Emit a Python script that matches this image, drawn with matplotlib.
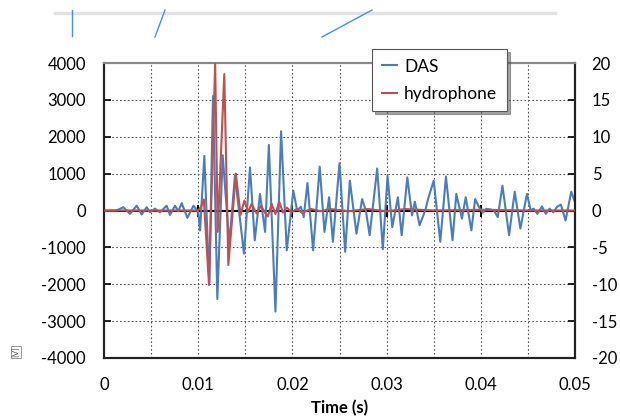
import matplotlib
matplotlib.use("Agg")
import matplotlib.pyplot as plt
from matplotlib.lines import Line2D

# ---------------- data ----------------
das_t = [0.0, 0.0012, 0.0015, 0.00205, 0.00276, 0.00347, 0.0040, 0.00453, 0.00488,
         0.00541, 0.00594, 0.00665, 0.0070, 0.00754, 0.00789, 0.00825, 0.00885,
         0.0095, 0.0100, 0.0102, 0.01065, 0.01118, 0.01157, 0.01203, 0.0126,
         0.0133, 0.0139, 0.01486, 0.0155, 0.0160, 0.01656, 0.0171, 0.0175,
         0.0182, 0.0188, 0.0194, 0.0201, 0.0205, 0.0209, 0.0212, 0.0216, 0.0222,
         0.0229, 0.0234, 0.0239, 0.0243, 0.0250, 0.0256, 0.0261, 0.0268, 0.0274,
         0.0278, 0.0282, 0.0290, 0.0296, 0.0301, 0.0306, 0.0312, 0.0316, 0.0322,
         0.0327, 0.0330, 0.0335, 0.0341, 0.0344, 0.0350, 0.0357, 0.0363, 0.0370,
         0.0374, 0.0380, 0.0384, 0.0390, 0.0394, 0.0398, 0.0402, 0.0406, 0.0410,
         0.0414, 0.0418, 0.0423, 0.0430, 0.0436, 0.0442, 0.0449, 0.0453, 0.0456,
         0.0460, 0.0465, 0.0469, 0.0473, 0.0477, 0.0481, 0.0485, 0.0490, 0.0496,
         0.0500]
das_v = [0, 0, 20, 90, -90, 130, -110, 90, -50,
         50, -50, 130, -120, 130, -20, 200, -200,
         130, -50, -540, 1480, -1960, 3100, -2400, 1500,
         -900, 940, -1170, 1170, -810, 450, -580, 1780,
         -2740, 2150, -1080, 540, 0, 100, -180, 745, -1080,
         1190, -580, 360, -850, 1280, -1120, 810, -630, 310,
         0, -670, 1140, -1050, 940, -450, 360, -670, 900,
         -130, 240, -400, 0, 310, 810, -850, 920, -810,
         450, -220, 360, -540, 310, 100, -60, 45, 30,
         0, -180, 670, -670, 510, -490, 450, 0, 50,
         -90, 110, -90, 50, -50, 100, 160, -270, 510,
         220]

hyd_t = [0.0, 0.0100, 0.0103, 0.0106, 0.01115, 0.0118, 0.01207, 0.01277, 0.0132,
         0.0140, 0.0145, 0.0149, 0.0153, 0.01567, 0.0162, 0.01667, 0.0171,
         0.0174, 0.0178, 0.0182, 0.0186, 0.0190, 0.0194, 0.0199, 0.0205,
         0.0210, 0.0220, 0.0230, 0.0240, 0.0260, 0.0280, 0.0300, 0.0320,
         0.0350, 0.0400, 0.0450, 0.0500]
hyd_v = [0, 0, 0.5, 1.5, -10.1, 20, -2.9, 18.5, -7.4,
         5.0, -0.6, 1.35, -0.2, 0.9, -0.4, 0.65, -0.3,
         -0.8, 0.9, -0.5, 1.2, -0.3, 0.4, -0.2, 0.2,
         -0.3, 0.2, -0.1, 0.2, -0.1, 0.2, -0.1, 0.2,
         0.0, 0.1, 0.0, 0.0]

x_ticks = [0, 0.01, 0.02, 0.03, 0.04, 0.05]
x_tick_labels = ["0", "0.01", "0.02", "0.03", "0.04", "0.05"]
left_ticks = [-4000, -3000, -2000, -1000, 0, 1000, 2000, 3000, 4000]
right_ticks = [-20, -15, -10, -5, 0, 5, 10, 15, 20]
x_grid = [0.005, 0.01, 0.015, 0.02, 0.025, 0.03, 0.035, 0.04, 0.045]

# ---------------- figure ----------------
plt.rcParams['font.family'] = ['Lato', 'DejaVu Sans']
plt.rcParams['axes.unicode_minus'] = False
fig = plt.figure(figsize=(6.2, 4.17), dpi=100)
ax = fig.add_axes([104/620, 1-358/417, (575-104)/620, (358-63)/417])
ax2 = ax.twinx()

blue = '#4a7ebb'
red = '#c0504d'

ax.set_xlim(0, 0.05)
ax.set_ylim(-4000, 4000)
ax2.set_ylim(-20, 20)

# grid
for g in x_grid:
    ax.axvline(g, color='#555555', lw=0.8, ls=(0, (1.5, 2)), zorder=0)
for g in left_ticks[1:-1]:
    if g != 0:
        ax.axhline(g, color='#555555', lw=0.8, ls=(0, (1.5, 2)), zorder=0)
ax.axhline(0, color='black', lw=1.5, zorder=1)
ax.plot(x_ticks[1:-1], [0]*(len(x_ticks)-2), ls='none', marker='|',
        color='black', ms=9, mew=1.5, zorder=1)

l1, = ax.plot(das_t, das_v, color=blue, lw=1.5, zorder=3, label='DAS',
              solid_joinstyle='round')
l2, = ax2.plot(hyd_t, hyd_v, color=red, lw=1.5, zorder=3, label='hydrophone',
               solid_joinstyle='round')

ax.set_xticks(x_ticks)
ax.set_xticklabels(x_tick_labels)
ax.set_yticks(left_ticks)
ax2.set_yticks(right_ticks)
ax.tick_params(axis='x', length=0, labelsize=12, pad=14)
ax.tick_params(axis='y', direction='in', length=5, width=1.2, labelsize=12, pad=13)
ax2.tick_params(axis='y', direction='in', length=5, width=1.2, labelsize=12, pad=12)

for a in (ax, ax2):
    for s in a.spines.values():
        s.set_linewidth(1.5)
        s.set_color('#222222')
ax.spines['top'].set_color('#888888')
ax2.spines['top'].set_color('#888888')

ax.set_xlabel('Time (s)', fontsize=12, fontweight='bold', labelpad=5)

leg = ax2.legend([l1, l2], ['DAS', 'hydrophone'], loc='upper left',
                 bbox_to_anchor=(372/620, 1-49/417), bbox_transform=fig.transFigure,
                 borderaxespad=0,
                 fontsize=12.5, frameon=True, fancybox=False, shadow=True,
                 handlelength=0.9, handletextpad=0.4, borderpad=0.55,
                 labelspacing=0.65)
leg.get_frame().set_edgecolor('#555555')
leg.get_frame().set_linewidth(0.8)
leg.set_zorder(10)

# decorative artifacts at top of the reference image
fig.add_artist(Line2D([55/620, 555/620], [1-13/417, 1-13/417],
                      transform=fig.transFigure, color='#e2e2e2', lw=2.5))
for (xa, ya, xb, yb) in [(72, 10, 72, 36), (165, 10, 155, 37), (372, 10, 322, 37)]:
    fig.add_artist(Line2D([xa/620, xb/620], [1-ya/417, 1-yb/417],
                          transform=fig.transFigure, color='#4a8fd8', lw=1.0))

fig.text(16/620, 1-352/417, '[V]', rotation=90, fontsize=6, color='#555555',
         ha='center', va='center',
         bbox=dict(boxstyle='square,pad=0.1', fc='white', ec='#888888', lw=0.6))

fig.savefig('out.png', dpi=100)
